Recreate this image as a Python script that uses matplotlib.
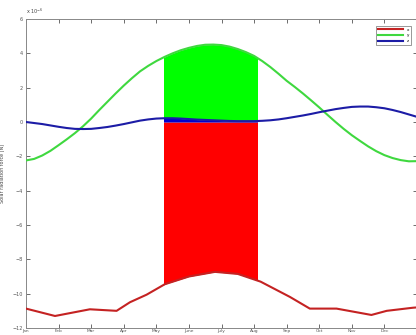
import matplotlib
matplotlib.use('Agg')
import matplotlib.pyplot as plt
import matplotlib.patches as mpatches
import numpy as np

# months since Jan 1 (quarter-month samples), force in units of 1e-6 N
months = np.arange(0, 12.01, 0.25)
force_y = [-2.24, -2.15, -1.95, -1.68, -1.35, -1.01, -0.65, -0.25,
           0.2, 0.7, 1.18, 1.66, 2.12, 2.55, 2.95, 3.27,
           3.55, 3.79, 4.0, 4.18, 4.32, 4.43, 4.5, 4.51,
           4.48, 4.39, 4.25, 4.07, 3.85, 3.55, 3.2, 2.81,
           2.4, 2.04, 1.66, 1.26, 0.85, 0.42, 0.0, -0.4,
           -0.77, -1.1, -1.42, -1.7, -1.93, -2.1, -2.22, -2.29, -2.28]
force_z = [0.0, -0.06, -0.12, -0.2, -0.28, -0.35, -0.4, -0.41,
           -0.4, -0.35, -0.29, -0.21, -0.12, -0.02, 0.08, 0.15,
           0.2, 0.22, 0.22, 0.2, 0.17, 0.14, 0.12, 0.1,
           0.08, 0.06, 0.05, 0.05, 0.05, 0.07, 0.1, 0.15,
           0.22, 0.3, 0.38, 0.47, 0.57, 0.66, 0.75, 0.82,
           0.88, 0.9, 0.9, 0.86, 0.8, 0.7, 0.58, 0.44, 0.3]

# x component, read at its kinks
months_x = [0, 0.89, 1.96, 2.78, 3.19, 3.7, 4.26, 5.0, 5.8, 6.5, 7.2, 8.1, 8.71,
            9.53, 10.6, 11.07, 11.87, 12]
force_x = [-10.87, -11.3, -10.91, -11.0, -10.5, -10.06, -9.45, -9.0, -8.73, -8.85,
           -9.3, -10.19, -10.87, -10.87, -11.24, -11.0, -10.82, -10.8]

# season where the force oscillates and looks filled
season_start = 4.24
season_end = 7.09

month_names = ['Jan', 'Feb', 'Mar', 'Apr', 'May', 'June', 'July', 'Aug', 'Sep',
               'Oct', 'Nov', 'Dec']

fig = plt.figure(figsize=(4.16, 3.35), dpi=100)
ax = fig.add_axes([26 / 416, 1 - 328 / 335, 391 / 416, 309 / 335])

red_line = '#c42222'
green_line = '#3fd83f'
blue_line = '#1c1ca6'

# fills only show inside the season, so clip them to it
clip = mpatches.Rectangle((season_start, -12), season_end - season_start, 24,
                          transform=ax.transData)
f1 = ax.fill_between(months_x, force_x, 0, color='#ff0000', lw=0, zorder=1)
f2 = ax.fill_between(months, force_z, force_y, color='#00ff00', lw=0, zorder=1)
f3 = ax.fill_between(months, 0, force_z, color='#0000d0', lw=0, zorder=1)
for f in (f1, f2, f3):
    f.set_clip_path(clip)

ax.plot(months_x, force_x, color=red_line, lw=1.5, label='x', zorder=3)
ax.plot(months, force_y, color=green_line, lw=1.5, label='y', zorder=3)
ax.plot(months, force_z, color=blue_line, lw=1.5, label='z', zorder=3)

ax.set_xlim(0, 12)
ax.set_ylim(-12, 6)
ax.set_xticks(range(12))
ax.set_xticklabels(month_names)
ax.set_yticks(range(-12, 7, 2))
ax.tick_params(direction='in', length=3, width=0.6, labelsize=3.5, colors='#555555',
               top=True, right=True, pad=2)
ax.tick_params(axis='x', labelsize=3.2, pad=0.8)
for s in ax.spines.values():
    s.set_color('#888888')
    s.set_linewidth(0.7)

ax.set_ylabel('Solar radiation force [N]', fontsize=3.5, color='#444444', labelpad=6)
ax.text(0.0, 1.01, r'x 10$^{-6}$', transform=ax.transAxes, fontsize=3.5,
        color='#444444', ha='left', va='bottom')

leg = ax.legend(loc='upper right', fontsize=3, handlelength=6, borderpad=0.5,
                labelspacing=0.4, fancybox=False, framealpha=1,
                bbox_to_anchor=(0.99, 0.985))
leg.get_frame().set_edgecolor('#888888')
leg.get_frame().set_linewidth(0.6)

fig.savefig('out.png', dpi=100)
